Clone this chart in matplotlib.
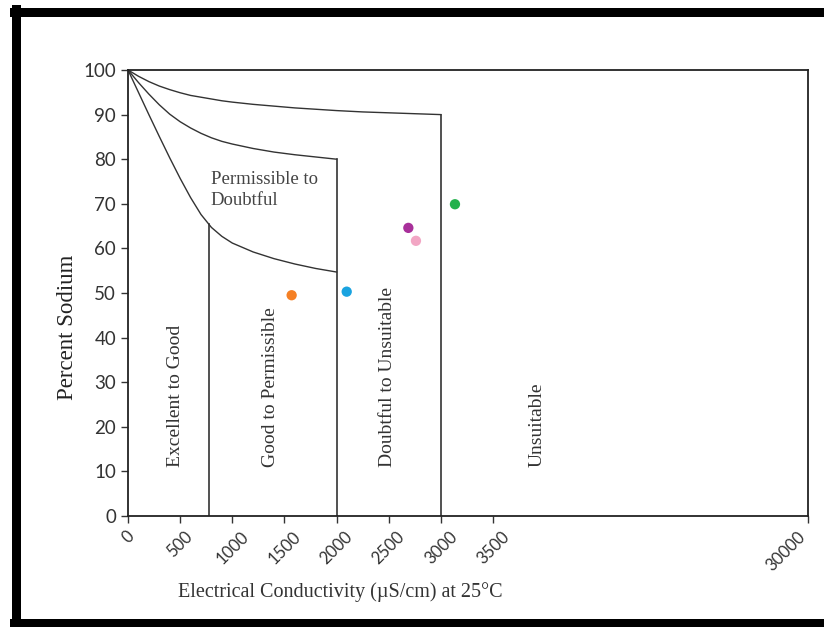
import matplotlib
matplotlib.use('Agg')
import matplotlib.pyplot as plt
from matplotlib.patches import Rectangle

# Wilcox diagram: EC (uS/cm) vs percent sodium

# boundary curves
top_ec = [0, 100, 200, 300, 400, 500, 600, 700, 800, 900, 1000, 1200, 1400, 1600,
          1800, 2000, 2250, 2500, 2750, 3000]
top_na = [100, 98.6, 97.4, 96.4, 95.6, 94.9, 94.3, 93.9, 93.5, 93.1, 92.8, 92.3, 91.9,
          91.5, 91.2, 90.9, 90.6, 90.4, 90.2, 90.0]

mid_ec = [0, 100, 200, 300, 400, 500, 600, 700, 800, 900, 1000, 1200, 1400, 1600, 1800, 2000]
mid_na = [100, 97.2, 94.6, 92.2, 90.1, 88.4, 87.0, 85.8, 84.8, 84.0, 83.4, 82.4, 81.6,
          81.0, 80.5, 80.0]

low_ec = [0, 100, 200, 300, 400, 500, 600, 700, 800, 900, 1000, 1200, 1400, 1600, 1800, 2000]
low_na = [100, 95.0, 90.0, 85.1, 80.3, 75.7, 71.4, 67.6, 64.7, 62.7, 61.2, 59.2, 57.7,
          56.5, 55.5, 54.7]

# vertical class limits: (ec, top of line)
limit_ec = [775, 2000, 3000]
limit_top = [65.5, 80.0, 90.0]

# samples
sample_ec = [1569, 2097, 2688, 2761, 3135]
sample_na = [49.5, 50.3, 64.6, 61.7, 69.9]
sample_colors = ['#f58025', '#1aa3e0', '#a8309a', '#f2a6c4', '#22b14c']

zone_names = ['Excellent to Good', 'Good to Permissible', 'Doubtful to Unsuitable', 'Unsuitable']
zone_ec = [459, 1367, 2486, 3920]

xtick_vals = [0, 500, 1000, 1500, 2000, 2500, 3000, 3500]
xtick_labels = ['0', '500', '1000', '1500', '2000', '2500', '3000', '3500']
ec_break = 6520   # the far end of the axis is labelled 30000
yticks = [0, 10, 20, 30, 40, 50, 60, 70, 80, 90, 100]

W, H = 824, 627
fig = plt.figure(figsize=(W / 100, H / 100), dpi=100)
ax = fig.add_axes([128 / W, 1 - 516 / H, 680 / W, 446 / H])

lc = '#333333'
ax.plot(top_ec, top_na, color=lc, lw=1.0)
ax.plot(mid_ec, mid_na, color=lc, lw=1.0)
ax.plot(low_ec, low_na, color=lc, lw=1.0)
for e, t in zip(limit_ec, limit_top):
    ax.plot([e, e], [0, t], color=lc, lw=1.2)

ax.scatter(sample_ec, sample_na, c=sample_colors, s=55, zorder=3, linewidths=0)

serif = 'Liberation Serif'
for name, e in zip(zone_names, zone_ec):
    ax.text(e, 11, name, rotation=90, ha='center', va='bottom',
            family=serif, fontsize=14, color='#333333')
ax.text(795, 77.3, 'Permissible to\nDoubtful', ha='left', va='top',
        family=serif, fontsize=13.5, color='#444444', linespacing=1.3)

ax.set_xlim(0, ec_break)
ax.set_ylim(0, 100)
ax.set_xticks(xtick_vals + [ec_break])
labels = ax.set_xticklabels(xtick_labels + ['30000'], rotation=45, ha='center', va='top',
                            family='Lato', fontsize=12, color='#333333')
labels[-1].set_ha('right')
ax.set_yticks(yticks)
ax.set_yticklabels([str(v) for v in yticks], family='Lato', fontsize=13.5, color='#333333')
ax.tick_params(axis='both', direction='out', length=5, width=1.0, color='#333333')
ax.tick_params(axis='x', pad=4)
for s in ax.spines.values():
    s.set_color('#222222')
    s.set_linewidth(1.3)

ax.set_ylabel('Percent Sodium', family=serif, fontsize=16.5, color='#222222')
ax.yaxis.set_label_coords(-0.073, 0.424)
ax.set_xlabel('Electrical Conductivity (\u00b5S/cm) at 25\u00b0C', family=serif,
              fontsize=14.5, color='#333333')
ax.xaxis.set_label_coords(0.312, -0.148)

# heavy black frame around the figure
def px_rect(x0, y0, x1, y1):
    fig.add_artist(Rectangle((x0 / W, 1 - y1 / H), (x1 - x0) / W, (y1 - y0) / H,
                             transform=fig.transFigure, color='black', lw=0))

px_rect(10, 8, W, 17)
px_rect(12, 5, 21, H)
px_rect(10, 619, W, H)

fig.savefig('out.png', dpi=100)
